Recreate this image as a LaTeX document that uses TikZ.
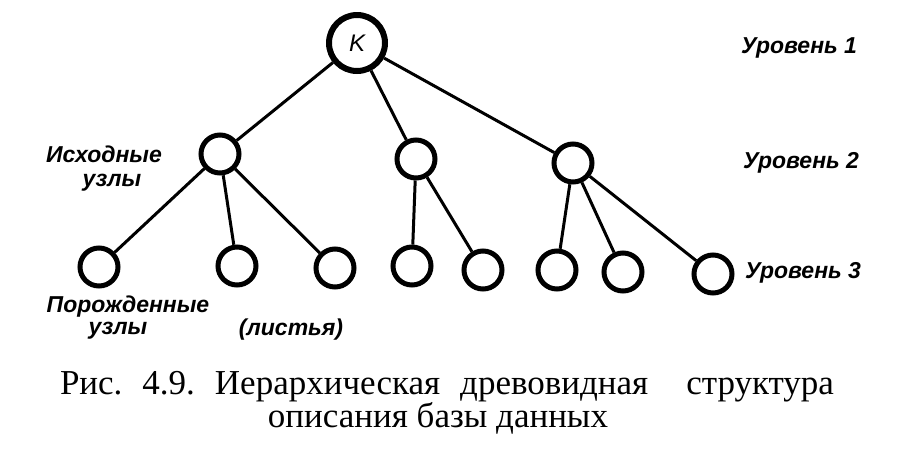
\documentclass[tikz,border=0pt]{standalone}
\usepackage{fontspec}
\setmainfont{Liberation Serif}
\newfontfamily\lblfont{Liberation Sans}
\begin{document}
\begin{tikzpicture}[x=1pt,y=-1pt,
  bignode/.style={circle,draw,line width=6pt,minimum size=56pt,inner sep=0pt},
  midnode/.style={circle,draw,line width=5pt,minimum size=38pt,inner sep=0pt},
  leaf/.style={circle,draw,line width=5pt,minimum size=38pt,inner sep=0pt},
  edge/.style={line width=3pt},
  lbl/.style={font=\lblfont\itshape\bfseries\fontsize{23}{25}\selectfont,inner sep=0pt,anchor=base},
  captext/.style={font=\fontsize{35}{38}\selectfont,inner sep=0pt,anchor=base}]
\useasboundingbox (0,0) rectangle (910,456);
\node[bignode,font=\lblfont\itshape\fontsize{24}{24}\selectfont] (k) at (357,43) {K};
\node[midnode] (a) at (220,154) {};
\node[midnode] (b) at (416,159) {};
\node[midnode] (c) at (573,163) {};
\node[leaf] (a1) at (99,267) {};
\node[leaf] (a2) at (237,266) {};
\node[leaf] (a3) at (335,268) {};
\node[leaf] (b1) at (412,266) {};
\node[leaf] (b2) at (483,270) {};
\node[leaf] (c1) at (557,270) {};
\node[leaf] (c2) at (623,272) {};
\node[leaf] (c3) at (713,274) {};
\foreach \p/\q in {k/a,k/b,k/c,a/a1,a/a2,a/a3,b/b1,b/b2,c/c1,c/c2,c/c3}
  \draw[edge] (\p) -- (\q);
\node[lbl] (l1) at (799,53) {Уровень 1};
\node[lbl] (l2) at (801,168) {Уровень 2};
\node[lbl] (l3) at (803,278) {Уровень 3};
\node[lbl] (t1) at (104,162) {Исходные};
\node[lbl] (t2) at (112,186) {узлы};
\node[lbl] (t3) at (128,312) {Порожденные};
\node[lbl] (t4) at (118,334) {узлы};
\node[lbl] (t5) at (291,335) {(листья)};
\node[captext] (cap1) at (447,394) {Рис.\hspace{20pt}4.9.\hspace{20pt}Иерархическая\hspace{20pt}древовидная\hspace{38pt}структура};
\node[captext] (cap2) at (438,427) {описания базы данных};
\end{tikzpicture}
\end{document}
